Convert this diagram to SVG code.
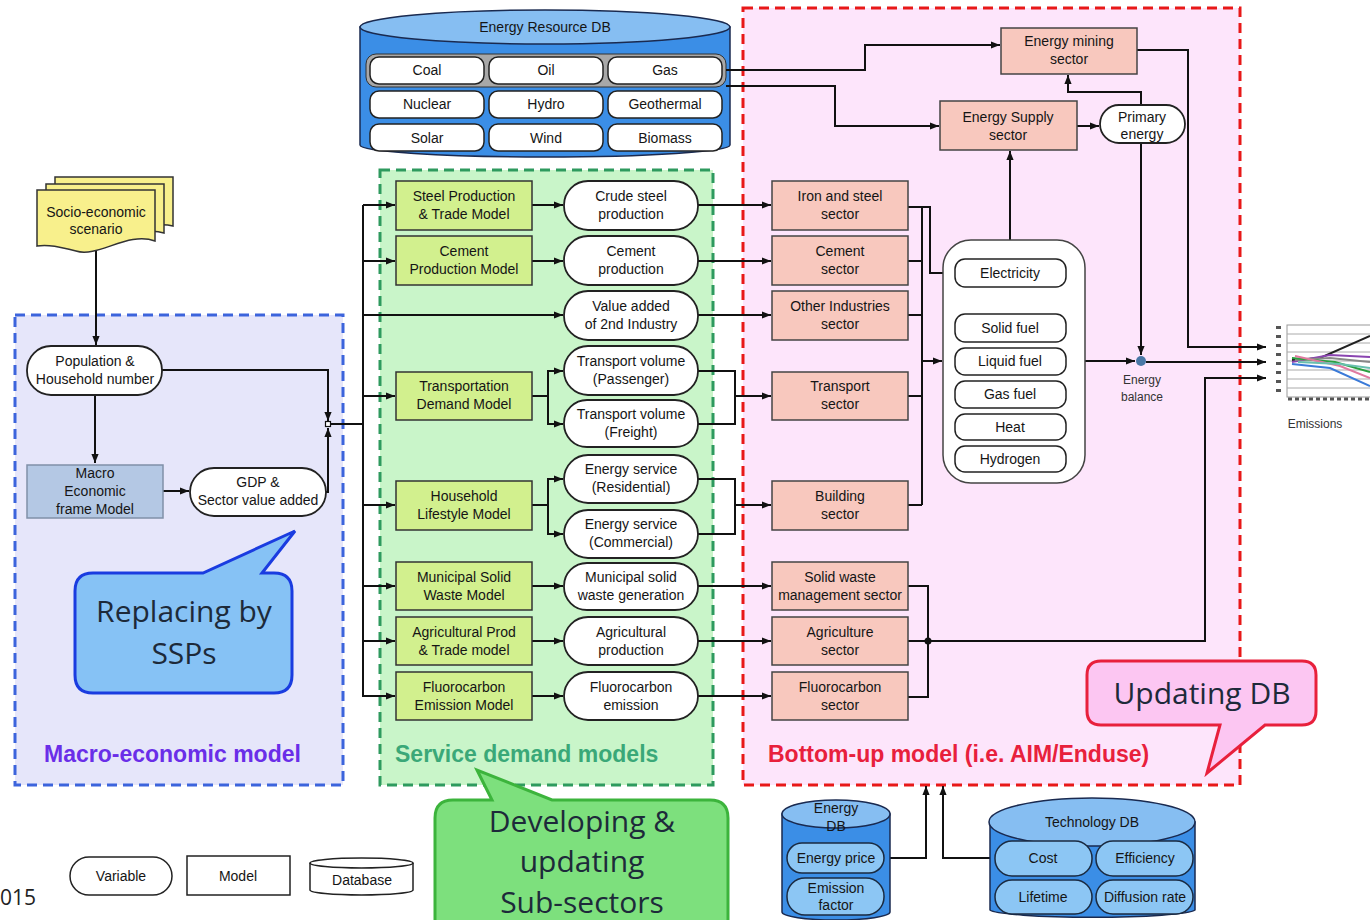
<svg xmlns="http://www.w3.org/2000/svg" width="1370" height="920" viewBox="0 0 1370 920">
<defs>
<style>
.t{font-family:"Liberation Sans",Arial,sans-serif;font-size:14px;fill:#151515;text-anchor:middle}
.ts{font-family:"Liberation Sans",Arial,sans-serif;font-size:12px;fill:#333;text-anchor:middle}
.big{font-family:"Open Sans","Noto Sans",sans-serif;font-size:30px;fill:#1d2a3a;text-anchor:middle}
.lbl{font-family:"Liberation Sans",Arial,sans-serif;font-size:23px;font-weight:bold}
.var{fill:#fff;stroke:#222;stroke-width:1.8}
.mdl{fill:#d2f08e;stroke:#333;stroke-width:1.5}
.sec{fill:#f8c8be;stroke:#444;stroke-width:1.5}
.cell{fill:#fff;stroke:#222;stroke-width:1.5}
.dbcell{fill:#8cc6f4;stroke:#1a2a40;stroke-width:1.5}
.dbbody{fill:#3b8ee6;stroke:#1a2a50;stroke-width:1.5}
.dbtop{fill:#86bef2;stroke:#1a2a50;stroke-width:1.5}
.cn{fill:none;stroke:#111;stroke-width:2}
.grid{stroke:#aaa;stroke-width:1}
</style>
<marker id="ah" viewBox="0 0 10 10" refX="10" refY="5" markerWidth="9" markerHeight="9" markerUnits="userSpaceOnUse" orient="auto"><path d="M0,1 L10,5 L0,9 z" fill="#111"/></marker>
</defs>
<rect width="1370" height="920" fill="#fff"/>

<!-- regions -->
<g id="region-macro">
<rect x="15" y="315" width="328" height="470" fill="#e6e6fa" stroke="#3c64dc" stroke-width="3" stroke-dasharray="10,6"/>
<text class="lbl" x="44" y="762" fill="#6a2ee8">Macro-economic model</text>
</g>
<g id="region-service">
<rect x="380" y="170" width="333" height="615" fill="#c9f5c9" stroke="#2e9a5e" stroke-width="3" stroke-dasharray="10,6"/>
<text class="lbl" x="395" y="762" fill="#3aa878">Service demand models</text>
</g>
<g id="region-bottomup">
<rect x="743" y="8" width="497" height="777" fill="#fde5fb" stroke="#e81818" stroke-width="3" stroke-dasharray="10,6"/>
<text class="lbl" x="768" y="762" fill="#e8203c">Bottom-up model (i.e. AIM/Enduse)</text>
</g>

<!-- Energy Resource DB -->
<g id="energy-resource-db">
<path class="dbbody" d="M360,27 V145 A185,12 0 0 0 730,145 V27 Z"/>
<ellipse class="dbtop" cx="545" cy="27" rx="185" ry="17"/>
<text class="t" x="545" y="32">Energy Resource DB</text>
<rect x="366" y="54" width="360" height="33" rx="10" fill="#a8a8a8" stroke="#333" stroke-width="1"/>
<rect class="cell" x="370" y="57" width="114" height="27" rx="9"/><text class="t" x="427" y="75">Coal</text>
<rect class="cell" x="489" y="57" width="114" height="27" rx="9"/><text class="t" x="546" y="75">Oil</text>
<rect class="cell" x="608" y="57" width="114" height="27" rx="9"/><text class="t" x="665" y="75">Gas</text>
<rect class="cell" x="370" y="91" width="114" height="27" rx="9"/><text class="t" x="427" y="109">Nuclear</text>
<rect class="cell" x="489" y="91" width="114" height="27" rx="9"/><text class="t" x="546" y="109">Hydro</text>
<rect class="cell" x="608" y="91" width="114" height="27" rx="9"/><text class="t" x="665" y="109">Geothermal</text>
<rect class="cell" x="370" y="124" width="114" height="27" rx="9"/><text class="t" x="427" y="143">Solar</text>
<rect class="cell" x="489" y="124" width="114" height="27" rx="9"/><text class="t" x="546" y="143">Wind</text>
<rect class="cell" x="608" y="124" width="114" height="27" rx="9"/><text class="t" x="665" y="143">Biomass</text>
</g>

<!-- connectors -->
<g id="connectors">
<path class="cn" d="M96,250 V345" marker-end="url(#ah)"/>
<path class="cn" d="M95,395 V463" marker-end="url(#ah)"/>
<path class="cn" d="M163,491 H189" marker-end="url(#ah)"/>
<path class="cn" d="M162,370 H328 V421" marker-end="url(#ah)"/>
<path class="cn" d="M325,492 H328 V428" marker-end="url(#ah)"/>
<path class="cn" d="M331,424 H363"/>
<path class="cn" d="M363,205 V697"/>
<path class="cn" d="M363,205 H395" marker-end="url(#ah)"/>
<path class="cn" d="M363,261 H395" marker-end="url(#ah)"/>
<path class="cn" d="M363,315 H563" marker-end="url(#ah)"/>
<path class="cn" d="M363,396 H395" marker-end="url(#ah)"/>
<path class="cn" d="M363,505 H395" marker-end="url(#ah)"/>
<path class="cn" d="M363,586 H395" marker-end="url(#ah)"/>
<path class="cn" d="M363,641 H395" marker-end="url(#ah)"/>
<path class="cn" d="M363,696 H395" marker-end="url(#ah)"/>
<path class="cn" d="M532,205 H563" marker-end="url(#ah)"/>
<path class="cn" d="M532,261 H563" marker-end="url(#ah)"/>
<path class="cn" d="M532,396 H548 V371 H563" marker-end="url(#ah)"/>
<path class="cn" d="M548,396 V424 H563" marker-end="url(#ah)"/>
<path class="cn" d="M532,505 H548 V479 H563" marker-end="url(#ah)"/>
<path class="cn" d="M548,505 V534 H563" marker-end="url(#ah)"/>
<path class="cn" d="M532,586 H563" marker-end="url(#ah)"/>
<path class="cn" d="M532,641 H563" marker-end="url(#ah)"/>
<path class="cn" d="M532,696 H563" marker-end="url(#ah)"/>
<path class="cn" d="M698,205 H771" marker-end="url(#ah)"/>
<path class="cn" d="M698,261 H771" marker-end="url(#ah)"/>
<path class="cn" d="M698,315 H771" marker-end="url(#ah)"/>
<path class="cn" d="M698,371 H735 V424 H698"/>
<path class="cn" d="M735,396 H771" marker-end="url(#ah)"/>
<path class="cn" d="M698,479 H735 V534 H698"/>
<path class="cn" d="M735,505 H771" marker-end="url(#ah)"/>
<path class="cn" d="M698,586 H771" marker-end="url(#ah)"/>
<path class="cn" d="M698,641 H771" marker-end="url(#ah)"/>
<path class="cn" d="M698,696 H771" marker-end="url(#ah)"/>
<path class="cn" d="M908,207 H930 V273 H954" marker-end="url(#ah)"/>
<path class="cn" d="M922,207 V505"/>
<path class="cn" d="M908,261 H922 M908,315 H922 M908,396 H922 M908,505 H922"/>
<path class="cn" d="M922,361 H942" marker-end="url(#ah)"/>
<path class="cn" d="M1010,259 V151" marker-end="url(#ah)"/>
<path class="cn" d="M1077,126 H1099" marker-end="url(#ah)"/>
<path class="cn" d="M1141,143 V355" marker-end="url(#ah)"/>
<path class="cn" d="M1141,105 V92 H1068 V75" marker-end="url(#ah)"/>
<path class="cn" d="M1085,361 H1135" marker-end="url(#ah)"/>
<path class="cn" d="M1146,362 H1266" marker-end="url(#ah)"/>
<path class="cn" d="M1137,50 H1188 V347 H1266" marker-end="url(#ah)"/>
<path class="cn" d="M908,586 H928 V697 H908"/>
<path class="cn" d="M908,641 H1205 V378 H1266" marker-end="url(#ah)"/>
<circle cx="928" cy="641" r="3.5" fill="#111"/>
<path class="cn" d="M726,70 H865 V45 H1000" marker-end="url(#ah)"/>
<path class="cn" d="M726,86 H835 V126 H939" marker-end="url(#ah)"/>
<path class="cn" d="M884,858 H926 V786" marker-end="url(#ah)"/>
<path class="cn" d="M990,858 H943 V786" marker-end="url(#ah)"/>
<rect x="325.5" y="421.5" width="5" height="5" fill="#fff" stroke="#111" stroke-width="1.2"/>
</g>

<!-- macro nodes -->
<g id="socio-economic-scenario">
<path d="M55,177 H173 V226 C150,220 130,236 110,232 L55,232 Z" fill="#f8f08c" stroke="#333" stroke-width="1.5"/>
<path d="M46,184 H164 V233 C140,226 118,244 100,239 L46,239 Z" fill="#f8f08c" stroke="#333" stroke-width="1.5"/>
<path d="M37,190 H155 V241 C128,231 98,258 76,251 C60,247 48,244 37,246 Z" fill="#f8f08c" stroke="#333" stroke-width="1.5"/>
<text class="t" x="96" y="217">Socio-economic</text>
<text class="t" x="96" y="234">scenario</text>
</g>
<g id="population">
<rect class="var" x="27" y="346" width="135" height="49" rx="24"/>
<text class="t" x="95" y="366">Population &amp;</text>
<text class="t" x="95" y="384">Household number</text>
</g>
<g id="macro-economic-frame-model">
<rect x="27" y="465" width="136" height="53" fill="#b4c8e4" stroke="#8090a8" stroke-width="1.5"/>
<text class="t" x="95" y="478">Macro</text>
<text class="t" x="95" y="496">Economic</text>
<text class="t" x="95" y="514">frame Model</text>
</g>
<g id="gdp">
<rect class="var" x="190" y="468" width="136" height="48" rx="24"/>
<text class="t" x="258" y="487">GDP &amp;</text>
<text class="t" x="258" y="505">Sector value added</text>
</g>

<!-- models -->
<g id="m-steel"><rect class="mdl" x="396" y="181" width="136" height="49"/><text class="t" x="464" y="201">Steel Production</text><text class="t" x="464" y="219">&amp; Trade Model</text></g>
<g id="m-cement"><rect class="mdl" x="396" y="236" width="136" height="49"/><text class="t" x="464" y="256">Cement</text><text class="t" x="464" y="274">Production Model</text></g>
<g id="m-transport"><rect class="mdl" x="396" y="372" width="136" height="48"/><text class="t" x="464" y="391">Transportation</text><text class="t" x="464" y="409">Demand Model</text></g>
<g id="m-household"><rect class="mdl" x="396" y="481" width="136" height="49"/><text class="t" x="464" y="501">Household</text><text class="t" x="464" y="519">Lifestyle Model</text></g>
<g id="m-msw"><rect class="mdl" x="396" y="562" width="136" height="48"/><text class="t" x="464" y="582">Municipal Solid</text><text class="t" x="464" y="600">Waste Model</text></g>
<g id="m-agri"><rect class="mdl" x="396" y="617" width="136" height="48"/><text class="t" x="464" y="637">Agricultural  Prod</text><text class="t" x="464" y="655">&amp; Trade model</text></g>
<g id="m-fluoro"><rect class="mdl" x="396" y="672" width="136" height="48"/><text class="t" x="464" y="692">Fluorocarbon</text><text class="t" x="464" y="710">Emission Model</text></g>

<!-- variables -->
<g id="v-steel"><rect class="var" x="564" y="181" width="134" height="49" rx="24"/><text class="t" x="631" y="201">Crude steel</text><text class="t" x="631" y="219">production</text></g>
<g id="v-cement"><rect class="var" x="564" y="236" width="134" height="49" rx="24"/><text class="t" x="631" y="256">Cement</text><text class="t" x="631" y="274">production</text></g>
<g id="v-value"><rect class="var" x="564" y="291" width="134" height="49" rx="24"/><text class="t" x="631" y="311">Value added</text><text class="t" x="631" y="329">of 2nd Industry</text></g>
<g id="v-passenger"><rect class="var" x="564" y="346" width="134" height="49" rx="24"/><text class="t" x="631" y="366">Transport volume</text><text class="t" x="631" y="384">(Passenger)</text></g>
<g id="v-freight"><rect class="var" x="564" y="400" width="134" height="47" rx="23"/><text class="t" x="631" y="419">Transport volume</text><text class="t" x="631" y="437">(Freight)</text></g>
<g id="v-residential"><rect class="var" x="564" y="455" width="134" height="48" rx="24"/><text class="t" x="631" y="474">Energy service</text><text class="t" x="631" y="492">(Residential)</text></g>
<g id="v-commercial"><rect class="var" x="564" y="510" width="134" height="48" rx="24"/><text class="t" x="631" y="529">Energy service</text><text class="t" x="631" y="547">(Commercial)</text></g>
<g id="v-msw"><rect class="var" x="564" y="563" width="134" height="47" rx="23"/><text class="t" x="631" y="582">Municipal solid</text><text class="t" x="631" y="600">waste generation</text></g>
<g id="v-agri"><rect class="var" x="564" y="617" width="134" height="48" rx="24"/><text class="t" x="631" y="637">Agricultural</text><text class="t" x="631" y="655">production</text></g>
<g id="v-fluoro"><rect class="var" x="564" y="672" width="134" height="48" rx="24"/><text class="t" x="631" y="692">Fluorocarbon</text><text class="t" x="631" y="710">emission</text></g>

<!-- sectors -->
<g id="s-iron"><rect class="sec" x="772" y="181" width="136" height="49"/><text class="t" x="840" y="201">Iron and steel</text><text class="t" x="840" y="219">sector</text></g>
<g id="s-cement"><rect class="sec" x="772" y="236" width="136" height="49"/><text class="t" x="840" y="256">Cement</text><text class="t" x="840" y="274">sector</text></g>
<g id="s-other"><rect class="sec" x="772" y="291" width="136" height="49"/><text class="t" x="840" y="311">Other Industries</text><text class="t" x="840" y="329">sector</text></g>
<g id="s-transport"><rect class="sec" x="772" y="372" width="136" height="48"/><text class="t" x="840" y="391">Transport</text><text class="t" x="840" y="409">sector</text></g>
<g id="s-building"><rect class="sec" x="772" y="481" width="136" height="49"/><text class="t" x="840" y="501">Building</text><text class="t" x="840" y="519">sector</text></g>
<g id="s-solidwaste"><rect class="sec" x="772" y="562" width="136" height="48"/><text class="t" x="840" y="582">Solid waste</text><text class="t" x="840" y="600">management sector</text></g>
<g id="s-agri"><rect class="sec" x="772" y="617" width="136" height="48"/><text class="t" x="840" y="637">Agriculture</text><text class="t" x="840" y="655">sector</text></g>
<g id="s-fluoro"><rect class="sec" x="772" y="672" width="136" height="48"/><text class="t" x="840" y="692">Fluorocarbon</text><text class="t" x="840" y="710">sector</text></g>

<!-- energy supply side -->
<g id="energy-mining"><rect class="sec" x="1001" y="28" width="136" height="46"/><text class="t" x="1069" y="46">Energy mining</text><text class="t" x="1069" y="64">sector</text></g>
<g id="energy-supply"><rect class="sec" x="940" y="101" width="137" height="49"/><text class="t" x="1008" y="122">Energy Supply</text><text class="t" x="1008" y="140">sector</text></g>
<g id="primary-energy"><rect class="var" x="1100" y="105" width="85" height="38" rx="19"/><text class="t" x="1142" y="122">Primary</text><text class="t" x="1142" y="139">energy</text></g>
<g id="fuels">
<rect x="943" y="240" width="142" height="243" rx="28" fill="#fff" stroke="#444" stroke-width="1.5"/>
<rect class="cell" x="955" y="259" width="111" height="28" rx="10"/><text class="t" x="1010" y="278">Electricity</text>
<rect class="cell" x="955" y="314" width="111" height="28" rx="10"/><text class="t" x="1010" y="333">Solid fuel</text>
<rect class="cell" x="955" y="348" width="111" height="27" rx="10"/><text class="t" x="1010" y="366">Liquid fuel</text>
<rect class="cell" x="955" y="381" width="111" height="27" rx="10"/><text class="t" x="1010" y="399">Gas fuel</text>
<rect class="cell" x="955" y="414" width="111" height="26" rx="10"/><text class="t" x="1010" y="432">Heat</text>
<rect class="cell" x="955" y="446" width="111" height="26" rx="10"/><text class="t" x="1010" y="464">Hydrogen</text>
</g>
<g id="energy-balance">
<circle cx="1141" cy="361" r="5" fill="#4a78a6"/>
<text class="ts" x="1142" y="384">Energy</text>
<text class="ts" x="1142" y="401">balance</text>
</g>

<!-- emissions chart -->
<g id="emissions">
<g fill="#555"><rect x="1276" y="326" width="5" height="3"/><rect x="1276" y="335" width="5" height="3"/><rect x="1276" y="344" width="5" height="3"/><rect x="1276" y="353" width="5" height="3"/><rect x="1276" y="362" width="5" height="3"/><rect x="1276" y="371" width="5" height="3"/><rect x="1276" y="380" width="5" height="3"/><rect x="1276" y="389" width="5" height="3"/></g>
<rect x="1287" y="325" width="90" height="72" fill="#fff" stroke="#999"/>
<path class="grid" d="M1287,334 H1370 M1287,343 H1370 M1287,352 H1370 M1287,361 H1370 M1287,370 H1370 M1287,379 H1370 M1287,388 H1370"/>
<path d="M1288,399 H1370" stroke="#555" stroke-width="3" stroke-dasharray="4,3"/>
<g fill="none" stroke-width="2">
<path d="M1292,360 L1320,358 L1370,336" stroke="#222"/>
<path d="M1292,362 L1330,355 L1370,357" stroke="#8a44b0"/>
<path d="M1295,360 L1330,358 L1370,362" stroke="#888"/>
<path d="M1292,358 L1335,362 L1370,372" stroke="#2aa040"/>
<path d="M1295,356 L1340,366 L1370,378" stroke="#e07aa0"/>
<path d="M1292,364 L1330,368 L1370,386" stroke="#3a7ad8"/>
<path d="M1298,362 L1340,364 L1370,368" stroke="#6ac0b0"/>
</g>
<text class="ts" x="1315" y="428">Emissions</text>
</g>

<!-- bottom DBs -->
<g id="energy-db">
<path class="dbbody" d="M782,814 V912 A54,8 0 0 0 890,912 V814 Z"/>
<ellipse class="dbtop" cx="836" cy="814" rx="54" ry="14"/>
<text class="t" x="836" y="813">Energy</text>
<text class="t" x="836" y="831">DB</text>
<rect class="dbcell" x="787" y="843" width="97" height="30" rx="15"/><text class="t" x="836" y="863">Energy price</text>
<rect class="dbcell" x="787" y="878" width="97" height="37" rx="18"/><text class="t" x="836" y="893">Emission</text><text class="t" x="836" y="910">factor</text>
</g>
<g id="technology-db">
<path class="dbbody" d="M990,822 V910 A103,8 0 0 0 1195,910 V822 Z"/>
<ellipse class="dbtop" cx="1092" cy="822" rx="103" ry="24"/>
<text class="t" x="1092" y="827">Technology DB</text>
<rect class="dbcell" x="995" y="841" width="97" height="35" rx="17"/><text class="t" x="1043" y="863">Cost</text>
<rect class="dbcell" x="1096" y="841" width="97" height="35" rx="17"/><text class="t" x="1145" y="863">Efficiency</text>
<rect class="dbcell" x="995" y="880" width="97" height="34" rx="17"/><text class="t" x="1043" y="902">Lifetime</text>
<rect class="dbcell" x="1096" y="880" width="97" height="34" rx="17"/><text class="t" x="1145" y="902">Diffusion rate</text>
</g>

<!-- legend -->
<g id="legend">
<rect x="70" y="857" width="102" height="38" rx="19" fill="#fff" stroke="#222" stroke-width="1.5"/>
<text class="t" x="121" y="881">Variable</text>
<rect x="187" y="856" width="103" height="39" fill="#fff" stroke="#222" stroke-width="1.5"/>
<text class="t" x="238" y="881">Model</text>
<path d="M310,863 V890 A51.5,5 0 0 0 413,890 V863" fill="#fff" stroke="#222" stroke-width="1.5"/>
<ellipse cx="361.5" cy="863" rx="51.5" ry="5" fill="#fff" stroke="#222" stroke-width="1.5"/>
<text class="t" x="362" y="885">Database</text>
<text x="0" y="905" font-family="'Open Sans','Noto Sans',sans-serif" font-size="21" fill="#222">015</text>
</g>

<!-- callouts -->
<g id="callout-ssps">
<path d="M93,573 H203 L295,531 L262,573 H274 Q292,573 292,591 V675 Q292,693 274,693 H93 Q75,693 75,675 V591 Q75,573 93,573 Z" fill="#86c2f5" stroke="#1a3ce0" stroke-width="3"/>
<text class="big" x="184" y="622">Replacing by</text>
<text class="big" x="184" y="664">SSPs</text>
</g>
<g id="callout-developing">
<path d="M453,800 H492 L477,770 L552,800 H710 Q728,800 728,818 V940 H435 V818 Q435,800 453,800 Z" fill="#7de07d" stroke="#3cb43c" stroke-width="3"/>
<text class="big" x="582" y="832">Developing &amp;</text>
<text class="big" x="582" y="872">updating</text>
<text class="big" x="582" y="913">Sub-sectors</text>
</g>
<g id="callout-updating">
<path d="M1101,661 H1302 Q1316,661 1316,675 V711 Q1316,725 1302,725 H1265 L1207,773 L1220,725 H1101 Q1087,725 1087,711 V675 Q1087,661 1101,661 Z" fill="#fcc6f2" stroke="#e8203c" stroke-width="3"/>
<text class="big" x="1202" y="704">Updating DB</text>
</g>
</svg>
